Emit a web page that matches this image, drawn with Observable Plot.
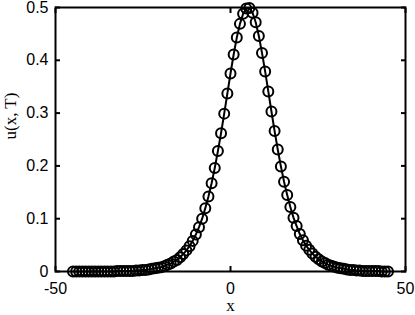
<!DOCTYPE html>
<html><head><meta charset="utf-8">
<script src="https://cdn.jsdelivr.net/npm/d3@7"></script>
<script src="https://cdn.jsdelivr.net/npm/@observablehq/plot@0.6"></script>
<style>body{margin:0;background:#fff}</style>
</head><body><div id="chart"></div>
<script>
const xs = [-45,-44.1,-43.2,-42.3,-41.4,-40.5,-39.6,-38.7,-37.8,-36.9,-36,-35.1,-34.2,-33.3,-32.4,-31.5,-30.6,-29.7,-28.8,-27.9,-27,-26.1,-25.2,-24.3,-23.4,-22.5,-21.6,-20.7,-19.8,-18.9,-18,-17.1,-16.2,-15.3,-14.4,-13.5,-12.6,-11.7,-10.8,-9.9,-9,-8.1,-7.2,-6.3,-5.4,-4.5,-3.6,-2.7,-1.8,-0.9,0,0.9,1.8,2.7,3.6,4.5,5.4,6.3,7.2,8.1,9,9.9,10.8,11.7,12.6,13.5,14.4,15.3,16.2,17.1,18,18.9,19.8,20.7,21.6,22.5,23.4,24.3,25.2,26.1,27,27.9,28.8,29.7,30.6,31.5,32.4,33.3,34.2,35.1,36,36.9,37.8,38.7,39.6,40.5,41.4,42.3,43.2,44.1,45];
const us = [0,0,0,0,0,0,0,0,0,0,0,0,0,0,0.001,0.001,0.001,0.001,0.001,0.001,0.002,0.002,0.003,0.003,0.004,0.005,0.006,0.007,0.008,0.010,0.013,0.015,0.019,0.022,0.027,0.033,0.040,0.048,0.058,0.070,0.084,0.100,0.120,0.142,0.167,0.196,0.228,0.262,0.299,0.337,0.375,0.411,0.443,0.469,0.488,0.498,0.499,0.490,0.472,0.446,0.414,0.379,0.341,0.303,0.266,0.231,0.199,0.170,0.145,0.122,0.102,0.086,0.071,0.059,0.049,0.041,0.034,0.028,0.023,0.019,0.016,0.013,0.011,0.009,0.007,0.006,0.005,0.004,0.003,0.003,0.002,0.002,0.001,0.001,0.001,0.001,0.001,0.001,0,0,0];
const xTicks = [-50, 0, 50];
const yTicks = [0, 0.1, 0.2, 0.3, 0.4, 0.5];
const xLabel = "x";
const yLabel = "u(x, T)";

const data = xs.map((x, i) => ({x, u: us[i]}));
const sans = "Liberation Sans, Arial, sans-serif";
const serif = "Liberation Serif, Times New Roman, serif";

const chart = Plot.plot({
  width: 415, height: 315,
  marginLeft: 55, marginRight: 10, marginTop: 7, marginBottom: 44,
  x: {domain: [-50, 50]},
  y: {domain: [0, 0.5]},
  style: {fontFamily: sans, fontSize: "15px", color: "black", background: "white"},
  marks: [
    Plot.line(data, {x: "x", y: "u", stroke: "black", strokeWidth: 2}),
    Plot.dot(data, {x: "x", y: "u", r: 5, stroke: "black", strokeWidth: 2, fill: "none"}),
    Plot.frame({stroke: "black", strokeWidth: 2}),
    Plot.axisX({ticks: xTicks, anchor: "bottom", tickSize: 0, tickPadding: 11, label: null, fontSize: 16, fontFamily: sans, tickFormat: d => String(d)}),
    Plot.axisX({ticks: xTicks, anchor: "bottom", tickSize: -5, tickFormat: () => "", label: null, strokeWidth: 2}),
    Plot.axisX({ticks: xTicks, anchor: "top", tickSize: -5, tickFormat: () => "", label: null, strokeWidth: 2}),
    Plot.axisY({ticks: yTicks, anchor: "left", tickSize: 0, tickPadding: 7, label: null, fontSize: 16, fontFamily: sans, tickFormat: d => String(d)}),
    Plot.axisY({ticks: yTicks, anchor: "left", tickSize: -5, tickFormat: () => "", label: null, strokeWidth: 2}),
    Plot.axisY({ticks: yTicks, anchor: "right", tickSize: -5, tickFormat: () => "", label: null, strokeWidth: 2}),
    Plot.text([xLabel], {frameAnchor: "bottom", dy: 39, text: d => d, fontFamily: serif, fontSize: 17}),
    Plot.text([yLabel], {frameAnchor: "left", dx: -45, rotate: -90, text: d => d, fontFamily: serif, fontSize: 17})
  ]
});
document.getElementById("chart").appendChild(chart);
</script></body></html>
